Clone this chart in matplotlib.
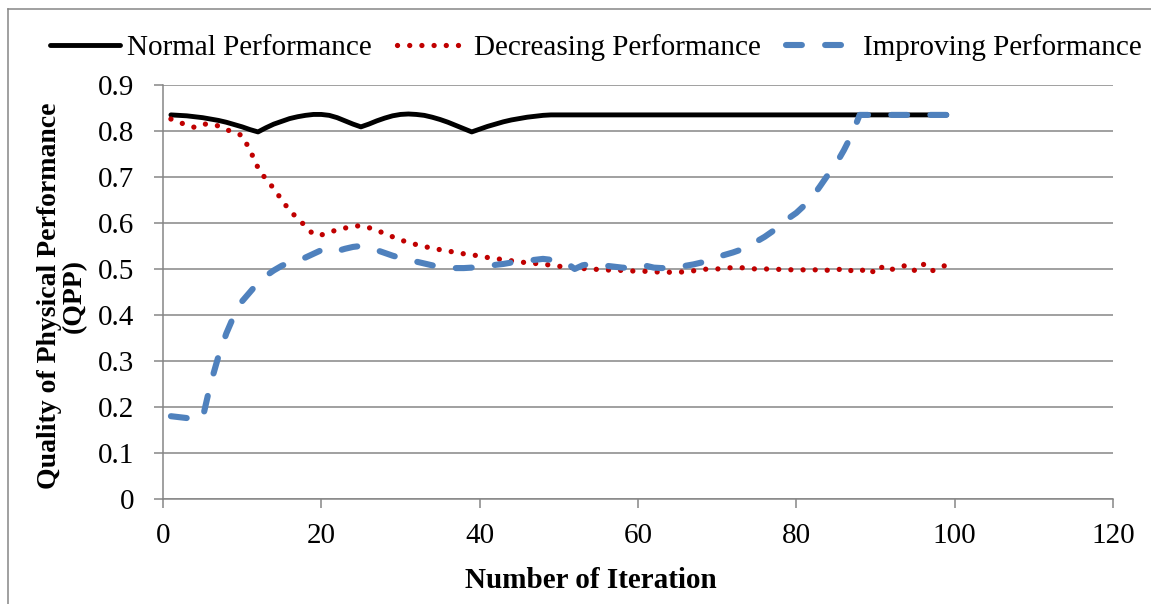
import matplotlib.pyplot as plt
from matplotlib.lines import Line2D

# ---- data ----
normal_x = list(range(1, 50)) + [99]
normal_y = [0.835, 0.834, 0.833, 0.831, 0.829, 0.826, 0.823, 0.819, 0.814, 0.809,
            0.803, 0.798, 0.807, 0.815, 0.821, 0.827, 0.831, 0.834, 0.836, 0.836,
            0.834, 0.829, 0.822, 0.815, 0.809, 0.815, 0.822, 0.828, 0.833, 0.836,
            0.837, 0.836, 0.834, 0.830, 0.825, 0.819, 0.812, 0.805, 0.798, 0.804,
            0.810, 0.815, 0.820, 0.824, 0.827, 0.830, 0.832, 0.834, 0.835, 0.835]

decreasing_x = list(range(1, 100))
decreasing_y = [0.826, 0.820, 0.812, 0.808, 0.815, 0.815, 0.811, 0.803, 0.797, 0.790,
                0.758, 0.720, 0.695, 0.675, 0.650, 0.627, 0.610, 0.593, 0.575, 0.574,
                0.580, 0.585, 0.589, 0.593, 0.594, 0.590, 0.583, 0.578, 0.570, 0.563,
                0.558, 0.553, 0.549, 0.545, 0.542, 0.539, 0.536, 0.533, 0.531, 0.528,
                0.525, 0.523, 0.520, 0.518, 0.515, 0.514, 0.512, 0.511, 0.508, 0.506,
                0.504, 0.503, 0.501, 0.500, 0.499, 0.498, 0.497, 0.497, 0.496, 0.495,
                0.495, 0.494, 0.493, 0.493, 0.493, 0.494, 0.496, 0.499, 0.500, 0.500,
                0.502, 0.503, 0.503, 0.501, 0.500, 0.500, 0.500, 0.499, 0.498, 0.499,
                0.498, 0.497, 0.500, 0.497, 0.497, 0.502, 0.496, 0.494, 0.503, 0.490,
                0.507, 0.499, 0.503, 0.509, 0.496, 0.511, 0.495, 0.502, 0.509]

improving_x = list(range(1, 89)) + [99]
improving_y = [0.180, 0.178, 0.176, 0.174, 0.175, 0.250, 0.310, 0.360, 0.400, 0.430,
               0.450, 0.470, 0.485, 0.497, 0.507, 0.514, 0.518, 0.525, 0.533, 0.541,
               0.535, 0.539, 0.544, 0.548, 0.550, 0.547, 0.541, 0.535, 0.529, 0.524,
               0.520, 0.516, 0.512, 0.508, 0.505, 0.503, 0.502, 0.502, 0.503, 0.504,
               0.506, 0.509, 0.511, 0.514, 0.516, 0.518, 0.520, 0.522, 0.520, 0.516,
               0.513, 0.500, 0.508, 0.511, 0.510, 0.507, 0.505, 0.503, 0.502, 0.502,
               0.507, 0.503, 0.502, 0.503, 0.505, 0.507, 0.510, 0.514, 0.520, 0.526,
               0.531, 0.536, 0.542, 0.550, 0.560, 0.570, 0.582, 0.595, 0.610, 0.622,
               0.638, 0.656, 0.680, 0.705, 0.728, 0.758, 0.792, 0.835, 0.835]

x_ticks = [0, 20, 40, 60, 80, 100, 120]
y_ticks = [0, 0.1, 0.2, 0.3, 0.4, 0.5, 0.6, 0.7, 0.8, 0.9]
y_tick_labels = ["0", "0.1", "0.2", "0.3", "0.4", "0.5", "0.6", "0.7", "0.8", "0.9"]

# ---- styles ----
plt.rcParams['font.family'] = ['Liberation Serif', 'DejaVu Serif']
c_grid = '#868686'
c_red = '#C00000'
c_blue = '#4F81BD'

W, H = 1151, 604
fig = plt.figure(figsize=(W / 100, H / 100), dpi=100)
ax = fig.add_axes([163 / W, 1 - 499 / H, (1113 - 163) / W, (499 - 85) / H])

ax.plot(normal_x, normal_y, color='black', linewidth=3.5, solid_capstyle='round',
        label="Normal Performance", zorder=3)
ax.plot(decreasing_x, decreasing_y, color=c_red, linewidth=3.8,
        linestyle=(0, (0.01, 2.3)), dash_capstyle='round',
        label="Decreasing Performance", zorder=4)
ax.plot(improving_x, improving_y, color=c_blue, linewidth=4.4,
        linestyle=(0, (2.6, 3.8)), dash_capstyle='round',
        label="Improving Performance", zorder=5)

ax.set_xlim(0, 120)
ax.set_ylim(0, 0.9)
ax.set_xticks(x_ticks)
ax.set_yticks(y_ticks)
ax.set_yticklabels(y_tick_labels)
ax.tick_params(axis='both', direction='out', length=6.5, width=1.1, color=c_grid,
               labelsize=21)
ax.tick_params(axis='y', pad=14)
ax.tick_params(axis='x', pad=11)
ax.yaxis.grid(True, color=c_grid, linewidth=1.1)
ax.set_axisbelow(True)
for s in ['top', 'right']:
    ax.spines[s].set_visible(False)
for s in ['left', 'bottom']:
    ax.spines[s].set_color(c_grid)
    ax.spines[s].set_linewidth(1.1)

# axis titles
fig.text(591 / W, 1 - 580 / H, "Number of Iteration", ha='center', va='center',
         fontsize=21, fontweight='bold')
fig.text(62 / W, 1 - 296 / H, "Quality of Physical Performance\n(QPP)", ha='center',
         va='center', rotation=90, multialignment='center', fontsize=20,
         fontweight='bold', linespacing=1.0)

# legend along the top
fig.legend(loc='center', bbox_to_anchor=(596 / W, 1 - 48 / H), ncol=3, frameon=False,
           fontsize=21, handlelength=2.4, handletextpad=0.25, columnspacing=0.85,
           borderpad=0, borderaxespad=0)

# outer chart border (cut at right and bottom)
fig.add_artist(Line2D([8 / W, 1], [1 - 9 / H, 1 - 9 / H], transform=fig.transFigure,
                      color=c_grid, linewidth=1.1))
fig.add_artist(Line2D([8 / W, 8 / W], [0, 1 - 9 / H], transform=fig.transFigure,
                      color=c_grid, linewidth=1.1))

fig.savefig("out.png", dpi=100)
